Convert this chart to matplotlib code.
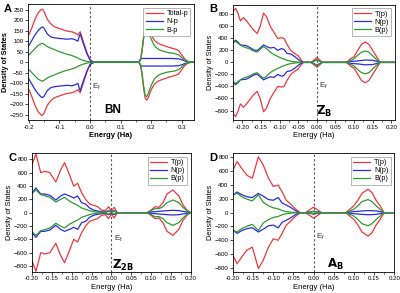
import numpy as np
import matplotlib
matplotlib.use("Agg")
import matplotlib.pyplot as plt
from matplotlib.ticker import MultipleLocator

plt.rcParams['font.family'] = ['Liberation Sans', 'DejaVu Sans']

# ---------- data: panel A (BN) ----------
a_x = [-0.2, -0.19, -0.18, -0.17, -0.16, -0.155, -0.15, -0.14, -0.13, -0.12, -0.11, -0.1,
       -0.09, -0.08, -0.07, -0.06, -0.05, -0.04, -0.035, -0.032, -0.028, -0.02, -0.01, 0.0,
       0.01, 0.015, 0.16, 0.165, 0.17, 0.175, 0.18, 0.185, 0.19, 0.2, 0.21, 0.22, 0.23, 0.24,
       0.25, 0.26, 0.27, 0.28, 0.29, 0.3, 0.31, 0.32, 0.33, 0.34]
a_total = [130, 165, 205, 235, 250, 252, 240, 205, 185, 172, 165, 160, 155, 150, 147, 145,
           140, 130, 140, 145, 125, 90, 45, 12, 2, 0, 0, 15, 60, 120, 170, 180, 170, 130, 105,
           92, 85, 80, 75, 70, 66, 62, 55, 35, 15, 4, 0, 0]
a_n = [80, 105, 130, 150, 165, 168, 160, 135, 122, 117, 115, 113, 112, 110, 110, 112, 108,
       100, 125, 135, 115, 80, 40, 10, 2, 0, 0, 15, 18, 18, 18, 18, 18, 18, 18, 18, 18, 18,
       18, 18, 18, 17, 16, 12, 6, 2, 0, 0]
a_b = [35, 50, 65, 80, 88, 90, 85, 75, 68, 62, 56, 50, 45, 40, 36, 32, 27, 20, 16, 14, 12, 8,
       4, 1, 0, 0, 0, 10, 50, 110, 155, 165, 150, 110, 80, 65, 57, 52, 48, 45, 43, 40, 35, 22,
       10, 3, 0, 0]

# ---------- data: panel B (Z_B) ----------
b_x = [-0.225, -0.218, -0.212, -0.205, -0.197, -0.19, -0.18, -0.17, -0.16, -0.152, -0.143,
       -0.135, -0.125, -0.115, -0.105, -0.095, -0.088, -0.08, -0.07, -0.06, -0.05, -0.042,
       -0.036, -0.015, -0.008, 0.0, 0.008, 0.015, 0.08, 0.09, 0.1, 0.11, 0.12, 0.13, 0.14,
       0.15, 0.16, 0.165, 0.17, 0.21]
b_t = [850, 900, 820, 690, 745, 700, 620, 540, 480, 600, 820, 760, 600, 500, 400, 410, 400,
       300, 200, 150, 110, 40, 0, 0, 40, 80, 40, 0, 0, 60, 95, 200, 300, 340, 300, 200, 100,
       50, 0, 0]
b_n = [330, 370, 340, 290, 285, 280, 250, 210, 195, 240, 290, 265, 240, 250, 200, 230, 215,
       150, 140, 100, 50, 15, 0, 0, 20, 45, 20, 0, 0, 15, 20, 25, 32, 40, 38, 35, 20, 10, 0, 0]
b_b = [320, 350, 320, 290, 260, 245, 225, 190, 170, 220, 260, 230, 170, 130, 100, 70, 55, 35,
       20, 10, 5, 2, 0, 0, 20, 45, 20, 0, 0, 30, 60, 120, 170, 190, 170, 110, 50, 25, 0, 0]

# ---------- data: panel C (Z_2B) ----------
c_x = [-0.2, -0.19, -0.178, -0.168, -0.155, -0.14, -0.128, -0.118, -0.105, -0.095, -0.085,
       -0.075, -0.065, -0.055, -0.045, -0.035, -0.025, -0.015, -0.007, 0.0, 0.007, 0.015,
       0.09, 0.1, 0.11, 0.12, 0.13, 0.14, 0.155, 0.17, 0.18, 0.19, 0.2]
c_t = [720, 880, 600, 620, 600, 460, 640, 750, 560, 400, 440, 300, 200, 130, 110, 90, 40,
       30, 90, 20, 80, 0, 0, 40, 90, 80, 150, 280, 340, 250, 120, 40, 0]
c_n = [300, 370, 280, 280, 260, 190, 250, 280, 250, 220, 250, 150, 130, 70, 40, 25, 15, 10,
       30, 10, 30, 0, 0, 10, 15, 20, 25, 30, 35, 30, 20, 10, 0]
c_b = [290, 340, 270, 255, 230, 160, 200, 230, 170, 140, 110, 70, 50, 30, 15, 8, 5, 5, 20, 5,
       20, 0, 0, 30, 60, 60, 90, 150, 190, 150, 80, 30, 0]

# ---------- data: panel D (A_B) ----------
d_x = [-0.2, -0.19, -0.178, -0.165, -0.152, -0.137, -0.125, -0.112, -0.1, -0.088, -0.078,
       -0.068, -0.058, -0.048, -0.04, -0.033, -0.02, -0.01, 0.0, 0.01, 0.02, 0.08, 0.09,
       0.1, 0.11, 0.12, 0.135, 0.145, 0.155, 0.165, 0.175, 0.2]
d_t = [620, 740, 640, 540, 500, 810, 690, 500, 380, 400, 300, 180, 130, 70, 30, 0, 0, 40,
       80, 40, 0, 0, 50, 100, 180, 280, 340, 290, 180, 100, 0, 0]
d_n = [250, 300, 260, 230, 220, 280, 240, 190, 180, 220, 140, 110, 80, 40, 15, 0, 0, 10, 20,
       10, 0, 0, 10, 15, 20, 25, 30, 28, 25, 15, 0, 0]
d_b = [260, 280, 230, 195, 170, 260, 150, 100, 70, 55, 30, 15, 8, 3, 1, 0, 0, 8, 15, 8, 0,
       0, 25, 50, 100, 160, 190, 160, 100, 50, 0, 0]

RED = '#e8393d'
BLUE = '#2b2bd9'
GREEN = '#2f9a2f'

fig = plt.figure(figsize=(4.0, 2.93), dpi=100)


def draw_panel(rect, x, series, names, xlim, ylim, xstep, ystep, letter, tag, ef_y, tag_xy,
               bold_labels=False, xfmt='%.2f'):
    ax = fig.add_axes(rect)
    x = np.array(x)
    for vals, name, col in zip(series, names, [RED, BLUE, GREEN]):
        v = np.array(vals, dtype=float)
        ax.plot(x, v, color=col, lw=0.9, label=name)
        ax.plot(x, -v, color=col, lw=0.9)
    ax.axvline(0, color='#555555', lw=0.8, ls=(0, (2, 2)))
    ax.set_xlim(*xlim)
    ax.set_ylim(*ylim)
    ax.xaxis.set_major_locator(MultipleLocator(xstep))
    ax.xaxis.set_minor_locator(MultipleLocator(xstep / 2))
    ax.yaxis.set_major_locator(MultipleLocator(ystep))
    ax.xaxis.set_major_formatter(plt.FormatStrFormatter(xfmt))
    ax.tick_params(axis='both', which='major', direction='out', length=2, width=0.5,
                   labelsize=4.4, pad=1.2)
    ax.tick_params(axis='x', which='minor', direction='out', length=1.2, width=0.4)
    for sp in ax.spines.values():
        sp.set_linewidth(0.6)
    w = 'bold' if bold_labels else 'normal'
    ax.set_xlabel('Energy (Ha)', fontsize=5.5, labelpad=2, fontweight=w)
    ax.set_ylabel('Density of States', fontsize=5.3, labelpad=0.8, fontweight=w)
    leg = ax.legend(loc='upper right', fontsize=5.2, handlelength=2.4, borderpad=0.3,
                    labelspacing=0.15, handletextpad=0.5, fancybox=False, framealpha=1)
    leg.get_frame().set_edgecolor('#999999')
    leg.get_frame().set_linewidth(0.5)
    ax.text(0.006, ef_y, r'$\mathregular{E_f}$', fontsize=5.8, color='#333333')
    ax.text(tag_xy[0], tag_xy[1], tag, fontsize=8.5, fontweight='bold')
    fig.text(rect[0] - 0.06, rect[1] + rect[3] - 0.015, letter, fontsize=8,
             fontweight='bold', va='center')
    return ax


draw_panel([0.07, 0.59, 0.415, 0.395], a_x, [a_total, a_n, a_b],
           ['Total-p', 'N-p', 'B-p'], (-0.203, 0.34), (-275, 275), 0.1, 50, 'A', 'BN',
           -125, (0.048, -240), bold_labels=True, xfmt='%.1f')
draw_panel([0.5825, 0.59, 0.405, 0.394], b_x, [b_t, b_n, b_b],
           ['T(p)', 'N(p)', 'B(p)'], (-0.225, 0.21), (-960, 960), 0.05, 200, 'B',
           r'$\mathbf{Z_B}$', -420, (-0.003, -880))
draw_panel([0.08, 0.0717, 0.397, 0.405], c_x, [c_t, c_n, c_b],
           ['T(p)', 'N(p)', 'B(p)'], (-0.2, 0.2), (-890, 890), 0.05, 200, 'C',
           r'$\mathbf{Z_{2B}}$', -420, (0.002, -840))
draw_panel([0.5825, 0.0717, 0.403, 0.405], d_x, [d_t, d_n, d_b],
           ['T(p)', 'N(p)', 'B(p)'], (-0.2, 0.2), (-860, 860), 0.05, 200, 'D',
           r'$\mathbf{A_B}$', -380, (0.033, -800))

fig.savefig('out.png', dpi=100)
